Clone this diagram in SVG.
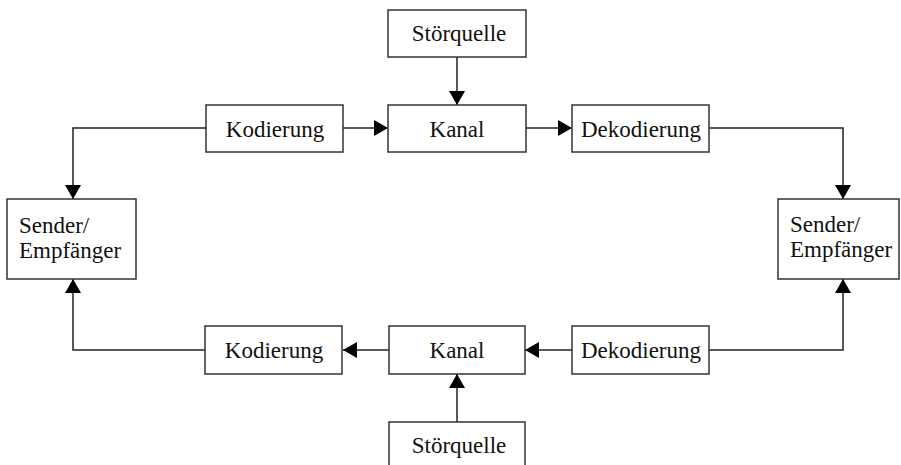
<svg xmlns="http://www.w3.org/2000/svg" width="901" height="465" viewBox="0 0 901 465">
<defs>
<marker id="ah" viewBox="0 0 14 16" refX="14" refY="8" markerWidth="14" markerHeight="16" markerUnits="userSpaceOnUse" orient="auto">
<path d="M0,0 L14,8 L0,16 Z" fill="#000"/>
</marker>
<style>
.box{fill:#fff;stroke:#333;stroke-width:1.5}
.t{font-family:"Liberation Serif","DejaVu Serif",serif;font-size:23px;fill:#111}
.c{text-anchor:middle}
.ln{fill:none;stroke:#222;stroke-width:1.5}
</style>
</defs>
<rect width="901" height="465" fill="#fff"/>
<g id="connectors">
<path class="ln" d="M457,57 V105" marker-end="url(#ah)"/>
<path class="ln" d="M342,128 H388" marker-end="url(#ah)"/>
<path class="ln" d="M526,128 H572" marker-end="url(#ah)"/>
<path class="ln" d="M206,128 H73 V199" marker-end="url(#ah)"/>
<path class="ln" d="M709,128 H843 V199" marker-end="url(#ah)"/>
<path class="ln" d="M457,422 V374" marker-end="url(#ah)"/>
<path class="ln" d="M389,350 H343" marker-end="url(#ah)"/>
<path class="ln" d="M572,350 H525" marker-end="url(#ah)"/>
<path class="ln" d="M205,350 H73 V279" marker-end="url(#ah)"/>
<path class="ln" d="M709,350 H843 V279" marker-end="url(#ah)"/>
</g>
<g id="stoerquelle-top"><rect class="box" x="388" y="10" width="138" height="47"/><text class="t c" x="459" y="41">Störquelle</text></g>
<g id="kodierung-top"><rect class="box" x="206" y="105" width="137" height="47"/><text class="t c" x="275" y="137">Kodierung</text></g>
<g id="kanal-top"><rect class="box" x="388" y="105" width="138" height="47"/><text class="t c" x="457" y="137">Kanal</text></g>
<g id="dekodierung-top"><rect class="box" x="572" y="105" width="137" height="47"/><text class="t c" x="641" y="137">Dekodierung</text></g>
<g id="sender-left"><rect class="box" x="7" y="199" width="129" height="80"/><text class="t" x="19" y="233">Sender/</text><text class="t" x="19" y="258">Empfänger</text></g>
<g id="sender-right"><rect class="box" x="778" y="199" width="121" height="80"/><text class="t" x="790" y="232">Sender/</text><text class="t" x="790" y="257">Empfänger</text></g>
<g id="kodierung-bottom"><rect class="box" x="205" y="326" width="137" height="48"/><text class="t c" x="274" y="358">Kodierung</text></g>
<g id="kanal-bottom"><rect class="box" x="389" y="326" width="136" height="48"/><text class="t c" x="457" y="358">Kanal</text></g>
<g id="dekodierung-bottom"><rect class="box" x="572" y="326" width="137" height="48"/><text class="t c" x="641" y="358">Dekodierung</text></g>
<g id="stoerquelle-bottom"><rect class="box" x="389" y="422" width="136" height="60"/><text class="t c" x="459" y="453">Störquelle</text></g>
</svg>
